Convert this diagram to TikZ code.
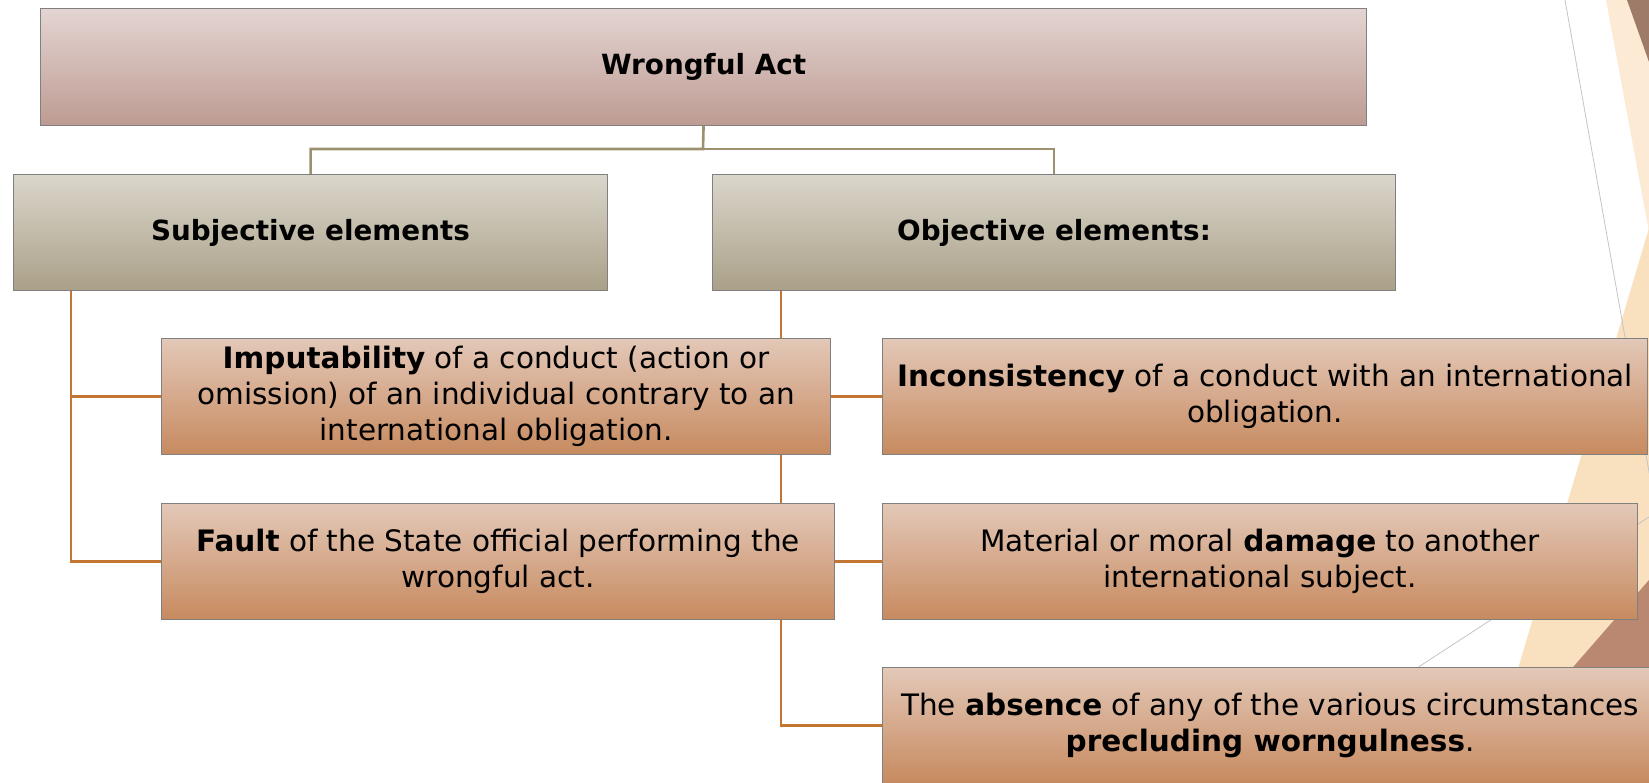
\documentclass[tikz,border=0pt]{standalone}
\usepackage{fontspec}
\setmainfont{DejaVu Sans}
\usetikzlibrary{positioning}

\definecolor{headtop}{HTML}{E4D5D2}
\definecolor{headbot}{HTML}{BD9B92}
\definecolor{cattop}{HTML}{DAD6CB}
\definecolor{catbot}{HTML}{AAA088}
\definecolor{itemtop}{HTML}{E3C8B8}
\definecolor{itembot}{HTML}{C78A5F}
\definecolor{boxline}{HTML}{808080}
\definecolor{catline}{HTML}{9C916F}
\definecolor{itemline}{HTML}{C27632}
\definecolor{lightpeach}{HTML}{FCEAD5}
\definecolor{peach}{HTML}{F9E1BF}
\definecolor{darkfacet}{HTML}{9E7B68}
\definecolor{lowfacet}{HTML}{BA8870}
\definecolor{thinline}{HTML}{C4C4C4}

\pgfdeclarelayer{bg}
\pgfsetlayers{bg,main}

\tikzset{
  box/.style={draw=boxline, line width=1.1pt, anchor=north west, align=center,
    inner sep=0pt, font=\fontsize{29.5}{36}\selectfont},
  headbox/.style={box, top color=headtop, bottom color=headbot, font=\fontsize{27.8}{34}\selectfont},
  catbox/.style={box, top color=cattop, bottom color=catbot, font=\fontsize{27.8}{34}\selectfont},
  itembox/.style={box, top color=itemtop, bottom color=itembot},
  catlink/.style={draw=catline, line width=2.6pt},
  itemlink/.style={draw=itemline, line width=2.6pt}
}

\begin{document}
\begin{tikzpicture}[x=1pt, y=-1pt]
\useasboundingbox (0,0) rectangle (1649,783);
\clip (0,0) rectangle (1649,783);

% boxes
\node[headbox, minimum width=1326pt, minimum height=117pt] (act) at (40,8) {\textbf{Wrongful Act}};
\node[catbox, minimum width=594pt, minimum height=116pt] (subj) at (13,174) {\textbf{Subjective elements}};
\node[catbox, minimum width=683pt, minimum height=116pt] (obj) at (712,174) {\textbf{Objective elements:}};

\node[itembox, minimum width=669pt, minimum height=116pt] (imput) at (161,338)
  {\textbf{Imputability} of a conduct (action or\\omission) of an individual contrary to an\\international obligation.};
\node[itembox, minimum width=673pt, minimum height=116pt] (fault) at (161,503)
  {\textbf{Fault} of the State official performing the\\wrongful act.};
\node[itembox, minimum width=765pt, minimum height=116pt] (incons) at (882,338)
  {\textbf{Inconsistency} of a conduct with an international\\obligation.};
\node[itembox, minimum width=755pt, minimum height=116pt] (damage) at (882,503)
  {Material or moral \textbf{damage} to another\\international subject.};
\node[itembox, minimum width=775pt, minimum height=116pt] (absence) at (882,667)
  {The \textbf{absence} of any of the various circumstances\\\textbf{precluding worngulness}.};

\begin{pgfonlayer}{bg}
% facet shapes on the right
\fill[lightpeach] (1606,0) -- (1649,0) -- (1649,232) -- cycle;
\fill[darkfacet] (1627,0) -- (1649,0) -- (1649,62) -- cycle;
\fill[peach] (1649,228) -- (1649,783) -- (1484,783) -- cycle;
\fill[lowfacet] (1649,580) -- (1649,783) -- (1472,783) -- cycle;
\draw[thinline, line width=0.8pt] (1565,0) -- (1651,483);
\draw[thinline, line width=0.8pt] (1400,679) -- (1649,517);

% connectors
\coordinate (split) at (703,149);
\draw[catlink] (act.south) -- (split) -| (subj.north);
\draw[catlink] (split) -| (obj.north);
\coordinate (lspine) at (71,289);
\draw[itemlink] (lspine) |- (imput.west);
\draw[itemlink] (lspine) |- (fault.west);
\coordinate (rspine) at (781,289);
\draw[itemlink] (rspine) |- (incons.west);
\draw[itemlink] (rspine) |- (damage.west);
\draw[itemlink] (rspine) |- (absence.west);
\end{pgfonlayer}
\end{tikzpicture}
\end{document}
